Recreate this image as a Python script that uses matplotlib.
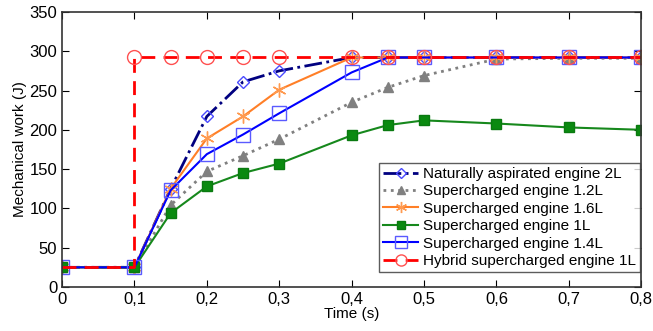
import matplotlib
matplotlib.use("Agg")
import matplotlib.pyplot as plt
import numpy as np

plt.rcParams["font.family"] = ["Liberation Sans", "DejaVu Sans"]

# time points (s)
t = [0, 0.1, 0.15, 0.2, 0.25, 0.3, 0.4, 0.45, 0.5, 0.6, 0.7, 0.8]

na_2l = [25, 25, 125, 217, 261, 275, 292, 292, 292, 292, 292, 292]
sc_12l = [25, 25, 104, 147, 167, 188, 235, 254, 269, 290, 291, 291]
sc_16l = [25, 25, 125, 189, 217, 251, 292, 292, 292, 292, 292, 292]
sc_1l = [25, 25, 94, 128, 145, 157, 193, 206, 212, 208, 203, 200]
sc_14l = [25, 25, 123, 169, 194, 221, 273, 292, 292, 292, 292, 292]

t_hyb = [0, 0.1, 0.1, 0.15, 0.2, 0.25, 0.3, 0.4, 0.45, 0.5, 0.6, 0.7, 0.8]
hyb_1l = [25, 25, 292, 292, 292, 292, 292, 292, 292, 292, 292, 292, 292]

xticks = [0, 0.1, 0.2, 0.3, 0.4, 0.5, 0.6, 0.7, 0.8]
xlabels = ["0", "0,1", "0,2", "0,3", "0,4", "0,5", "0,6", "0,7", "0,8"]

fig = plt.figure(figsize=(6.53, 3.31), dpi=100)
ax = fig.add_axes([0.095, 0.133, 0.887, 0.831])

ax.plot(t, na_2l, color="#000080", ls="-.", lw=2, marker="D", ms=6,
        mfc="none", mec="#4a4aff", label="Naturally aspirated engine 2L")
ax.plot(t, sc_12l, color="#808080", ls=":", lw=2, marker="^", ms=7,
        mfc="#808080", mec="#808080", label="Supercharged engine 1.2L")
ax.plot(t, sc_16l, color="#ff7f27", ls="-", lw=1.5, marker=(6, 2, 0), ms=10,
        mec="#ff9a50", label="Supercharged engine 1.6L")
ax.plot(t, sc_1l, color="#16881c", ls="-", lw=1.5, marker="s", ms=7,
        mfc="#0a8a10", mec="#0a7a10", label="Supercharged engine 1L")
ax.plot(t, sc_14l, color="#0000ff", ls="-", lw=1.5, marker="s", ms=10,
        mfc="none", mec="#5a5aff", label="Supercharged engine 1.4L")
# hybrid: markers only on the upper level
ax.plot(t_hyb, hyb_1l, color="#ff0000", ls="--", lw=2, dashes=(5, 3),
        marker="o", ms=10, mfc="none", mec="#ff5050", markevery=list(range(2, 13)),
        label="Hybrid supercharged engine 1L")

ax.set_xlim(0, 0.8)
ax.set_ylim(0, 350)
ax.set_xticks(xticks)
ax.set_xticklabels(xlabels)
ax.set_yticks(range(0, 351, 50))
ax.tick_params(direction="in", top=True, right=True, labelsize=12, length=5)
for s in ax.spines.values():
    s.set_color("#333333")
    s.set_linewidth(1.2)

ax.set_xlabel("Time (s)", fontsize=11, labelpad=0)
ax.set_ylabel("Mechanical work (J)", fontsize=11, labelpad=2)

leg = ax.legend(loc="lower right", fontsize=11, frameon=True, fancybox=False,
                edgecolor="#333333", borderpad=0.25, labelspacing=0.22,
                handlelength=2.3, handletextpad=0.3, borderaxespad=0.1,
                bbox_to_anchor=(1.0, 0.05), markerscale=0.8)
leg.get_frame().set_linewidth(1.0)

fig.savefig("out.png", dpi=100)
